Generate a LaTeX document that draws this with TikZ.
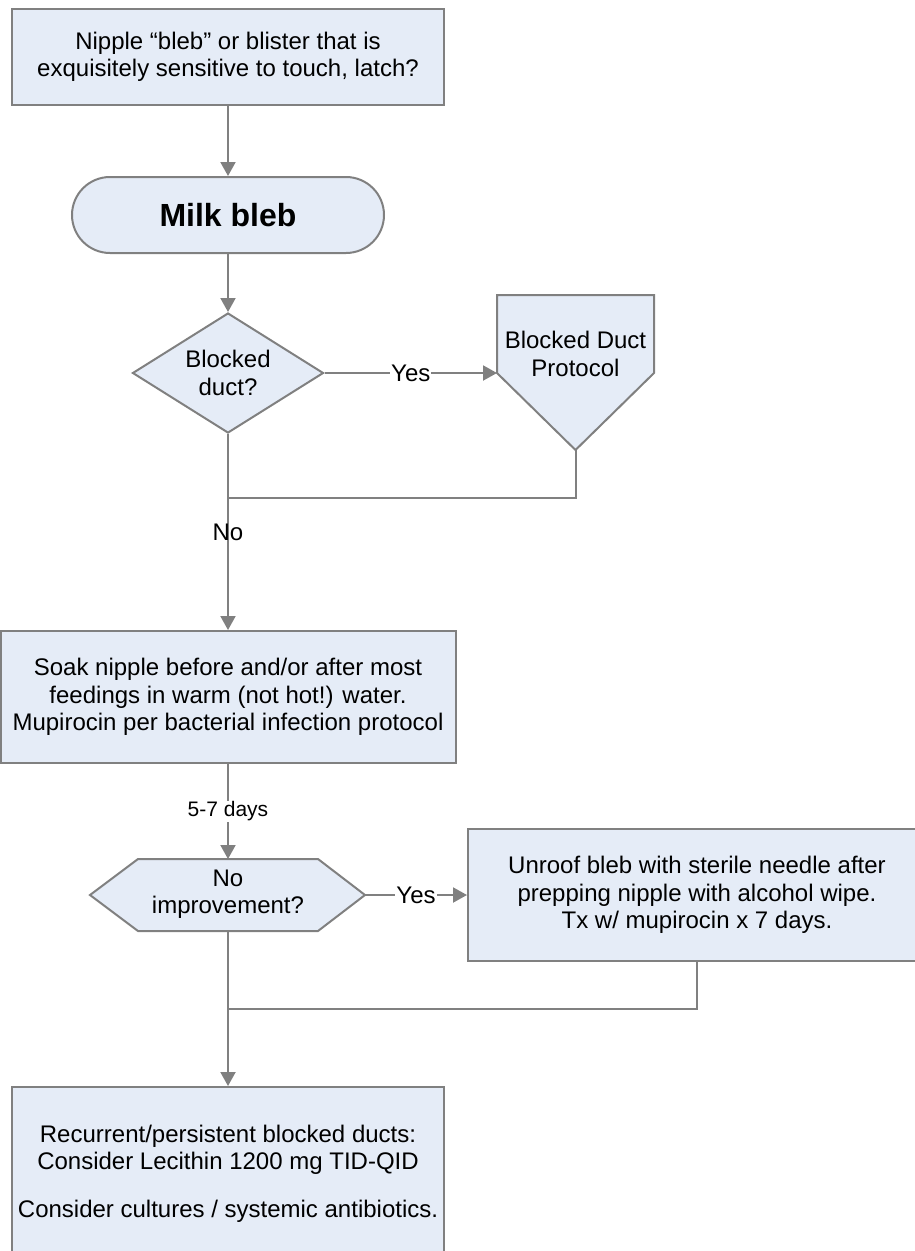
\documentclass[tikz,border=0pt]{standalone}
\usepackage{fontspec}
\setmainfont{Liberation Sans}
\usetikzlibrary{arrows.meta,shapes.geometric,shapes.misc}
\definecolor{boxfill}{RGB}{229,236,247}
\definecolor{linegray}{RGB}{128,128,128}
\begin{document}
\begin{tikzpicture}[x=1pt,y=-1pt,
  every node/.style={font=\fontsize{24}{27.5}\selectfont, text=black},
  box/.style={draw=linegray, fill=boxfill, line width=2pt, align=center, inner sep=0pt},
  shapeline/.style={draw=linegray, fill=boxfill, line width=2pt},
  flow/.style={draw=linegray, line width=2pt},
  arr/.style={flow, -{Triangle[length=14pt,width=15pt]}},
  lbl/.style={fill=white, inner sep=1pt}]

\useasboundingbox (0,0) rectangle (915,1251);

% question box at the top
\node[box, minimum width=432pt, minimum height=96pt] (q1) at (228,57)
  {Nipple “bleb” or blister that is\\exquisitely sensitive to touch, latch?};

% terminator
\node[box, rounded rectangle, minimum width=312pt, minimum height=76pt,
      font=\bfseries\fontsize{32}{36}\selectfont] (bleb) at (228,215) {Milk bleb};

% first decision
\node[box, diamond, aspect=1.6, minimum width=191pt, minimum height=120pt] (dq) at (228,373)
  {Blocked\\duct?};

% off-page connector (pentagon pointing down)
\draw[shapeline] (497,295) -- (654,295) -- (654,373) -- (575.5,450) coordinate (bdpB)
  -- (497,373) coordinate (bdpL) -- cycle;
\node[align=center] (bdp) at (575.5,354) {Blocked Duct\\Protocol};

% treatment box
\node[box, minimum width=455pt, minimum height=132pt] (soak) at (228,697)
  {Soak nipple before and/or after most\\feedings in warm (not hot!) water.\\Mupirocin per bacterial infection protocol};

% second decision (hexagon)
\draw[shapeline] (90,895) -- (138,859) coordinate (nqTL) -- (318,859) -- (365,895) coordinate (nqR)
  -- (318,931) -- (138,931) -- cycle;
\coordinate (nqT) at (228,859);
\coordinate (nqB) at (228,931);
\node[align=center] (nq) at (228,894) {No\\improvement?};

% unroofing box
\node[box, minimum width=458pt, minimum height=132pt] (unroof) at (697,895)
  {Unroof bleb with sterile needle after\\prepping nipple with alcohol wipe.\\Tx w/ mupirocin x 7 days.};

% final box
\node[box, minimum width=432pt, minimum height=173pt] (recur) at (228,1173.5)
  {Recurrent/persistent blocked ducts:\\Consider Lecithin 1200 mg TID-QID\\[20pt]Consider cultures / systemic antibiotics.};

% junction points
\coordinate (j1) at (228,498);
\coordinate (j2) at (228,1009);

% connectors
\draw[arr] (q1.south) -- (bleb.north);
\draw[arr] (bleb.south) -- (dq.north);
\draw[arr] (dq.east) -- node[lbl] {Yes} (bdpL);
\draw[flow] (bdpB) |- (j1);
\draw[arr] (dq.south) -- node[inner sep=0pt] {No} (soak.north);
\draw[arr] (soak.south) -- node[lbl, font=\fontsize{21}{24}\selectfont] {5-7 days} (nqT);
\draw[arr] (nqR) -- node[lbl] {Yes} (unroof.west);
\draw[flow] (unroof.south) |- (j2);
\draw[arr] (nqB) -- (recur.north);
\end{tikzpicture}
\end{document}
